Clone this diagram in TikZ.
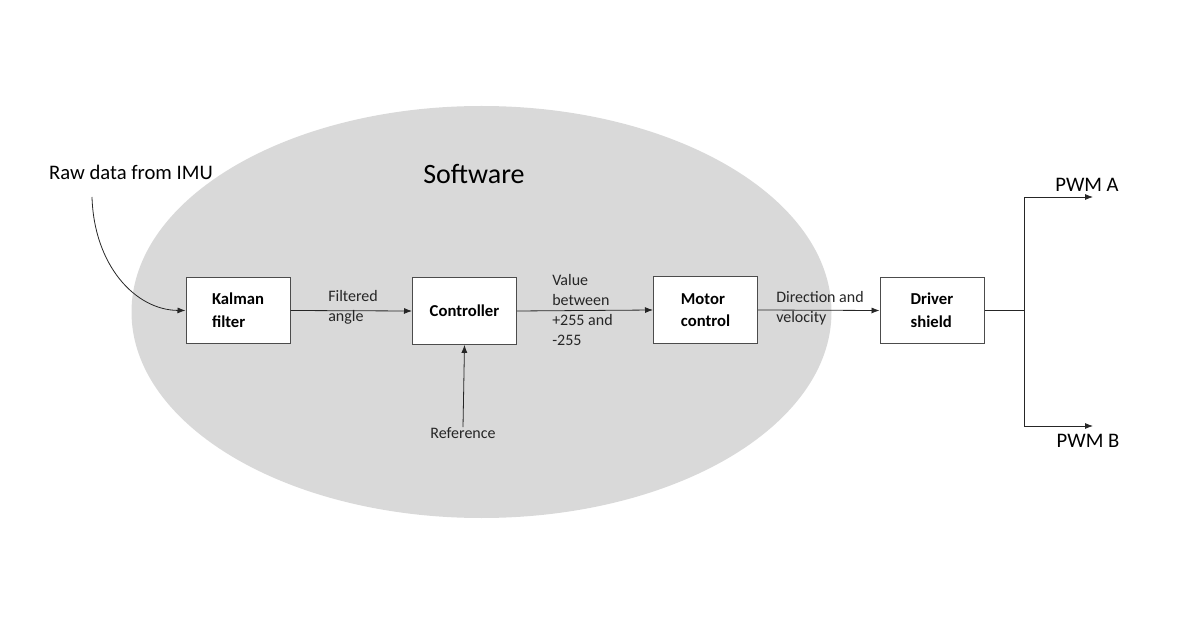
\documentclass[tikz,border=0pt]{standalone}
\usepackage{fontspec}
\setmainfont{Carlito}
\usetikzlibrary{arrows.meta}

\begin{document}
\begin{tikzpicture}[x=0.75pt, y=-0.75pt,
    block/.style={draw=black!70, fill=white, line width=0.75pt, minimum width=78pt, minimum height=50pt, align=left, font=\fontsize{12.5}{17}\selectfont\bfseries},
    tag/.style={inner sep=0pt, align=left, font=\fontsize{12}{15}\selectfont, text=black!85},
    flow/.style={-{Latex[length=6pt,width=4.5pt]}, black!85, line width=0.6pt}]
    \useasboundingbox (0,0) rectangle (1182,620);
    \fill [black!15] (481.5,312) ellipse [x radius=350, y radius=206];
    \node [font=\fontsize{21}{25}\selectfont] (soft) at (474,174) {Software};
    \node [font=\fontsize{15.5}{19}\selectfont] (raw) at (131,172) {Raw data from IMU};
    \coordinate (rawend) at (92,197);
    % blocks
    \node [block] (kalman) at (238,310.5) {Kalman\\filter};
    \node [block] (ctrl) at (464.5,311) {Controller};
    \node [block] (motor) at (705.5,310) {Motor\\control};
    \node [block] (driver) at (932,310.5) {Driver\\shield};
    \node [tag, anchor=west] (filt) at (328,307) {Filtered\\angle};
    \node [tag, anchor=west] (val) at (552,310) {Value\\between\\+255 and\\-255};
    \node [tag, anchor=west] (dir) at (776,308) {Direction and\\velocity};
    \node [tag] (ref) at (463,433) {Reference};
    % outputs
    \coordinate (split) at (1024,310.5);
    \coordinate (outA) at (1093,197);
    \coordinate (outB) at (1093,426);
    \node [font=\fontsize{15.5}{19}\selectfont] (pwma) at (1087,185) {PWM A};
    \node [font=\fontsize{15.5}{19}\selectfont] (pwmb) at (1088,441) {PWM B};
    \draw [flow] (rawend) .. controls (94,265) and (135,310) .. (kalman.west);
    \draw [flow] (kalman.east) -- (ctrl.west);
    \draw [flow] (ctrl.east) -- (motor.west);
    \draw [flow] (motor.east) -- (driver.west);
    \draw [flow] (ref.north) -- (ctrl.south);
    \draw [black!85, line width=0.75pt] (driver.east) -- (split);
    \draw [flow] (split) |- (outA);
    \draw [flow] (split) |- (outB);
\end{tikzpicture}
\end{document}
